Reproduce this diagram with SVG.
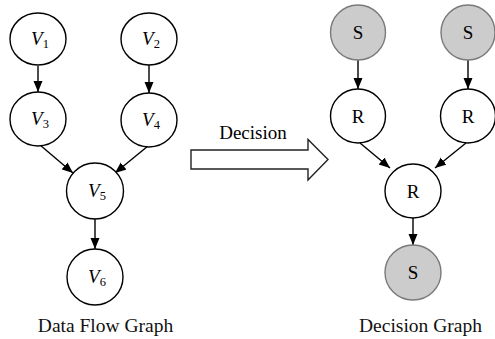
<svg xmlns="http://www.w3.org/2000/svg" width="495" height="339" viewBox="0 0 495 339">
  <defs>
    <marker id="arrow" markerUnits="userSpaceOnUse" markerWidth="12" markerHeight="10" refX="11" refY="4.5" orient="auto">
      <path d="M0,0 L11,4.5 L0,9 z" fill="#000"/>
    </marker>
    <style>
      .node { fill: #fff; stroke: #000; stroke-width: 1.4; }
      .snode { fill: #cccccc; stroke: #7a7a7a; stroke-width: 1.4; }
      .edge { stroke: #000; stroke-width: 1.4; fill: none; marker-end: url(#arrow); }
      .lbl { font-family: "Liberation Serif", "Times New Roman", serif; font-size: 19px; fill: #000; }
      .v { font-style: italic; }
      .sub { font-size: 12.5px; font-style: normal; }
      .cap { font-family: "Liberation Serif", "Times New Roman", serif; font-size: 19.5px; fill: #111; }
    </style>
  </defs>

  <rect width="495" height="339" fill="#fff"/>

  <!-- connectors -->
  <g id="edges">
    <line class="edge" x1="38" y1="66" x2="38" y2="92"/>
    <line class="edge" x1="149" y1="65" x2="149" y2="93"/>
    <line class="edge" x1="40" y1="145" x2="73" y2="173"/>
    <line class="edge" x1="148" y1="146" x2="115" y2="173"/>
    <line class="edge" x1="95" y1="218" x2="95" y2="249"/>
    <line class="edge" x1="358" y1="60" x2="358" y2="89"/>
    <line class="edge" x1="468" y1="60" x2="468" y2="89"/>
    <line class="edge" x1="360" y1="143" x2="390" y2="168"/>
    <line class="edge" x1="466" y1="143" x2="435" y2="168"/>
    <line class="edge" x1="413" y1="218" x2="413" y2="245"/>
  </g>

  <!-- data flow graph -->
  <g id="V1">
    <ellipse class="node" cx="38" cy="39" rx="28" ry="26"/>
    <text class="lbl" x="40" y="45" text-anchor="middle"><tspan class="v">V</tspan><tspan class="sub" dy="3">1</tspan></text>
  </g>
  <g id="V2">
    <ellipse class="node" cx="149" cy="39" rx="28" ry="26"/>
    <text class="lbl" x="151" y="45" text-anchor="middle"><tspan class="v">V</tspan><tspan class="sub" dy="3">2</tspan></text>
  </g>
  <g id="V3">
    <ellipse class="node" cx="38" cy="119" rx="28" ry="27"/>
    <text class="lbl" x="40" y="125" text-anchor="middle"><tspan class="v">V</tspan><tspan class="sub" dy="3">3</tspan></text>
  </g>
  <g id="V4">
    <ellipse class="node" cx="149" cy="120" rx="28" ry="27"/>
    <text class="lbl" x="151" y="126" text-anchor="middle"><tspan class="v">V</tspan><tspan class="sub" dy="3">4</tspan></text>
  </g>
  <g id="V5">
    <ellipse class="node" cx="95" cy="191" rx="28.5" ry="28"/>
    <text class="lbl" x="97" y="197" text-anchor="middle"><tspan class="v">V</tspan><tspan class="sub" dy="3">5</tspan></text>
  </g>
  <g id="V6">
    <ellipse class="node" cx="95" cy="277" rx="28" ry="28"/>
    <text class="lbl" x="97" y="283" text-anchor="middle"><tspan class="v">V</tspan><tspan class="sub" dy="3">6</tspan></text>
  </g>

  <!-- transformation arrow -->
  <g id="decision">
    <polygon points="191,150 308,150 308,139.5 328,159.5 308,180 308,169 191,169" fill="#fff" stroke="#222" stroke-width="1.4"/>
    <text class="lbl" x="253" y="139" text-anchor="middle">Decision</text>
  </g>

  <!-- decision graph -->
  <g id="S1">
    <ellipse class="snode" cx="358" cy="32.5" rx="27.5" ry="27.5"/>
    <text class="lbl" x="358" y="39" text-anchor="middle">S</text>
  </g>
  <g id="S2">
    <ellipse class="snode" cx="468" cy="32.5" rx="27" ry="27.5"/>
    <text class="lbl" x="468" y="39" text-anchor="middle">S</text>
  </g>
  <g id="R1">
    <ellipse class="node" cx="358" cy="116" rx="27.5" ry="27"/>
    <text class="lbl" x="358" y="122.5" text-anchor="middle">R</text>
  </g>
  <g id="R2">
    <ellipse class="node" cx="468" cy="116" rx="27.5" ry="27"/>
    <text class="lbl" x="468" y="122.5" text-anchor="middle">R</text>
  </g>
  <g id="R3">
    <ellipse class="node" cx="413" cy="191" rx="28" ry="27"/>
    <text class="lbl" x="413" y="197.5" text-anchor="middle">R</text>
  </g>
  <g id="S3">
    <ellipse class="snode" cx="413" cy="272.5" rx="28" ry="27.5"/>
    <text class="lbl" x="413" y="279" text-anchor="middle">S</text>
  </g>

  <!-- captions -->
  <text class="cap" x="105.5" y="332" text-anchor="middle">Data Flow Graph</text>
  <text class="cap" x="420.5" y="332" text-anchor="middle">Decision Graph</text>
</svg>
